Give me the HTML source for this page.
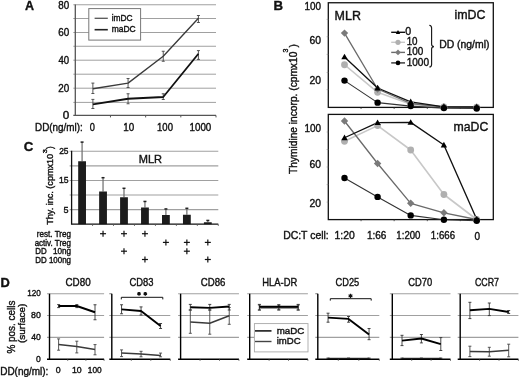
<!DOCTYPE html>
<html><head><meta charset="utf-8"><style>
html,body{margin:0;padding:0;background:#fff;}
svg{display:block;filter:grayscale(1);}
text{font-family:"Liberation Sans", sans-serif;stroke:#111;stroke-width:0.38px;}
</style></head><body>
<svg width="520" height="377" viewBox="0 0 520 377">
<rect width="520" height="377" fill="#fff"/>
<text x="24.89" y="10.3" font-size="13.2" font-weight="bold" fill="#111" textLength="9.04" lengthAdjust="spacingAndGlyphs" style="stroke-width:0.35px">A</text>
<line x1="73.3" y1="102.4" x2="216" y2="102.4" stroke="#a0a0a0" stroke-width="1" />
<line x1="73.3" y1="88.2" x2="216" y2="88.2" stroke="#a0a0a0" stroke-width="1" />
<line x1="73.3" y1="74.2" x2="216" y2="74.2" stroke="#a0a0a0" stroke-width="1" />
<line x1="73.3" y1="60.2" x2="216" y2="60.2" stroke="#a0a0a0" stroke-width="1" />
<line x1="73.3" y1="46.25" x2="216" y2="46.25" stroke="#a0a0a0" stroke-width="1" />
<line x1="73.3" y1="32.5" x2="216" y2="32.5" stroke="#a0a0a0" stroke-width="1" />
<line x1="73.3" y1="18.5" x2="216" y2="18.5" stroke="#a0a0a0" stroke-width="1" />
<line x1="73.3" y1="4.75" x2="216" y2="4.75" stroke="#a0a0a0" stroke-width="1" />
<text x="62.74" y="118.80000000000001" font-size="10.2" font-weight="normal" fill="#111" textLength="6.52" lengthAdjust="spacingAndGlyphs">0</text>
<text x="58.2" y="91.7" font-size="10.2" font-weight="normal" fill="#111" textLength="10.98" lengthAdjust="spacingAndGlyphs">20</text>
<text x="58.48" y="64.10000000000001" font-size="10.2" font-weight="normal" fill="#111" textLength="10.7" lengthAdjust="spacingAndGlyphs">40</text>
<text x="58.2" y="35.5" font-size="10.2" font-weight="normal" fill="#111" textLength="10.99" lengthAdjust="spacingAndGlyphs">60</text>
<text x="58.27" y="9.15" font-size="10.2" font-weight="normal" fill="#111" textLength="10.91" lengthAdjust="spacingAndGlyphs">80</text>
<line x1="75.3" y1="4.45" x2="75.3" y2="115.9" stroke="#555" stroke-width="1.3" />
<line x1="73.3" y1="115.4" x2="216" y2="115.4" stroke="#555" stroke-width="1.3" />
<line x1="110.475" y1="115.4" x2="110.475" y2="117.4" stroke="#555" stroke-width="1" />
<line x1="145.64999999999998" y1="115.4" x2="145.64999999999998" y2="117.4" stroke="#555" stroke-width="1" />
<line x1="180.825" y1="115.4" x2="180.825" y2="117.4" stroke="#555" stroke-width="1" />
<line x1="216.0" y1="115.4" x2="216.0" y2="117.4" stroke="#555" stroke-width="1" />
<text x="35.09" y="130.7" font-size="10.2" font-weight="normal" fill="#111" textLength="47.71" lengthAdjust="spacingAndGlyphs">DD(ng/ml):</text>
<text x="89.74" y="130.7" font-size="10.0" font-weight="normal" fill="#111" textLength="5.12" lengthAdjust="spacingAndGlyphs">0</text>
<text x="123.35" y="130.7" font-size="10.0" font-weight="normal" fill="#111" textLength="10.93" lengthAdjust="spacingAndGlyphs">10</text>
<text x="157.07" y="130.7" font-size="10.0" font-weight="normal" fill="#111" textLength="15.9" lengthAdjust="spacingAndGlyphs">100</text>
<text x="189.56" y="130.7" font-size="10.0" font-weight="normal" fill="#111" textLength="21.73" lengthAdjust="spacingAndGlyphs">1000</text>
<rect x="88.8" y="8.6" width="51.8" height="31.5" fill="#fff" stroke="#777" stroke-width="1"/>
<line x1="94.6" y1="18.3" x2="107.8" y2="18.3" stroke="#555" stroke-width="1.3" />
<line x1="94.6" y1="29.7" x2="107.8" y2="29.7" stroke="#222" stroke-width="1.6" />
<text x="111.7" y="20.7" font-size="8.8" text-anchor="start" font-weight="normal" fill="#111" textLength="21" lengthAdjust="spacingAndGlyphs" >imDC</text>
<text x="111.7" y="32.1" font-size="8.8" text-anchor="start" font-weight="normal" fill="#111" textLength="24" lengthAdjust="spacingAndGlyphs" >maDC</text>
<line x1="92.88749999999999" y1="83.1" x2="92.88749999999999" y2="93.5" stroke="#444" stroke-width="0.9" />
<line x1="91.38749999999999" y1="83.1" x2="94.38749999999999" y2="83.1" stroke="#444" stroke-width="0.9" />
<line x1="91.38749999999999" y1="93.5" x2="94.38749999999999" y2="93.5" stroke="#444" stroke-width="0.9" />
<line x1="92.88749999999999" y1="99.4" x2="92.88749999999999" y2="108.5" stroke="#444" stroke-width="0.9" />
<line x1="91.38749999999999" y1="99.4" x2="94.38749999999999" y2="99.4" stroke="#444" stroke-width="0.9" />
<line x1="91.38749999999999" y1="108.5" x2="94.38749999999999" y2="108.5" stroke="#444" stroke-width="0.9" />
<line x1="128.0625" y1="78.5" x2="128.0625" y2="87.5" stroke="#444" stroke-width="0.9" />
<line x1="126.5625" y1="78.5" x2="129.5625" y2="78.5" stroke="#444" stroke-width="0.9" />
<line x1="126.5625" y1="87.5" x2="129.5625" y2="87.5" stroke="#444" stroke-width="0.9" />
<line x1="128.0625" y1="93.75" x2="128.0625" y2="103.75" stroke="#444" stroke-width="0.9" />
<line x1="126.5625" y1="93.75" x2="129.5625" y2="93.75" stroke="#444" stroke-width="0.9" />
<line x1="126.5625" y1="103.75" x2="129.5625" y2="103.75" stroke="#444" stroke-width="0.9" />
<line x1="163.2375" y1="51.25" x2="163.2375" y2="61.25" stroke="#444" stroke-width="0.9" />
<line x1="161.7375" y1="51.25" x2="164.7375" y2="51.25" stroke="#444" stroke-width="0.9" />
<line x1="161.7375" y1="61.25" x2="164.7375" y2="61.25" stroke="#444" stroke-width="0.9" />
<line x1="163.2375" y1="93.75" x2="163.2375" y2="99.5" stroke="#444" stroke-width="0.9" />
<line x1="161.7375" y1="93.75" x2="164.7375" y2="93.75" stroke="#444" stroke-width="0.9" />
<line x1="161.7375" y1="99.5" x2="164.7375" y2="99.5" stroke="#444" stroke-width="0.9" />
<line x1="198.41249999999997" y1="15.5" x2="198.41249999999997" y2="22.5" stroke="#444" stroke-width="0.9" />
<line x1="196.91249999999997" y1="15.5" x2="199.91249999999997" y2="15.5" stroke="#444" stroke-width="0.9" />
<line x1="196.91249999999997" y1="22.5" x2="199.91249999999997" y2="22.5" stroke="#444" stroke-width="0.9" />
<line x1="198.41249999999997" y1="50.6" x2="198.41249999999997" y2="59.4" stroke="#444" stroke-width="0.9" />
<line x1="196.91249999999997" y1="50.6" x2="199.91249999999997" y2="50.6" stroke="#444" stroke-width="0.9" />
<line x1="196.91249999999997" y1="59.4" x2="199.91249999999997" y2="59.4" stroke="#444" stroke-width="0.9" />
<polyline points="92.88749999999999,88.75 128.0625,83.1 163.2375,56.25 198.41249999999997,18.25" fill="none" stroke="#3a3a3a" stroke-width="1.35" stroke-linejoin="round"/>
<polyline points="92.88749999999999,104.4 128.0625,98.75 163.2375,97.0 198.41249999999997,53.75" fill="none" stroke="#111" stroke-width="1.8" stroke-linejoin="round"/>
<text x="273.41" y="10.0" font-size="13.2" font-weight="bold" fill="#111" textLength="9.59" lengthAdjust="spacingAndGlyphs" style="stroke-width:0.35px">B</text>
<text transform="translate(296.6,174) rotate(-90)" font-size="10.2" fill="#111" textLength="122.3" lengthAdjust="spacingAndGlyphs">Thymidine incorp. (cpmx10</text>
<text transform="translate(287.5,52.6) rotate(-90)" font-size="7.0" fill="#111">3</text>
<text transform="translate(296.6,47.6) rotate(-90)" font-size="10.2" fill="#111">)</text>
<rect x="328.3" y="2.75" width="165.0" height="104.65" fill="none" stroke="#111" stroke-width="1.3"/>
<text x="304.44" y="9.6" font-size="10.6" font-weight="normal" fill="#111" textLength="16.54" lengthAdjust="spacingAndGlyphs">100</text>
<text x="309.47" y="43.9" font-size="10.6" font-weight="normal" fill="#111" textLength="11.53" lengthAdjust="spacingAndGlyphs">60</text>
<text x="309.48" y="83.8" font-size="10.6" font-weight="normal" fill="#111" textLength="11.53" lengthAdjust="spacingAndGlyphs">20</text>
<line x1="326.7" y1="19.4" x2="328.3" y2="19.4" stroke="#888" stroke-width="0.7" />
<line x1="326.7" y1="36.7" x2="328.3" y2="36.7" stroke="#888" stroke-width="0.7" />
<line x1="326.7" y1="54.4" x2="328.3" y2="54.4" stroke="#888" stroke-width="0.7" />
<line x1="326.7" y1="72.5" x2="328.3" y2="72.5" stroke="#888" stroke-width="0.7" />
<line x1="326.7" y1="89.6" x2="328.3" y2="89.6" stroke="#888" stroke-width="0.7" />
<line x1="361.05" y1="107.4" x2="361.05" y2="109.0" stroke="#333" stroke-width="0.8" />
<line x1="394.15" y1="107.4" x2="394.15" y2="109.0" stroke="#333" stroke-width="0.8" />
<line x1="427.29999999999995" y1="107.4" x2="427.29999999999995" y2="109.0" stroke="#333" stroke-width="0.8" />
<line x1="460.29999999999995" y1="107.4" x2="460.29999999999995" y2="109.0" stroke="#333" stroke-width="0.8" />
<text x="454.47" y="18.8" font-size="11.9" font-weight="normal" fill="#111" textLength="31.0" lengthAdjust="spacingAndGlyphs">imDC</text>
<rect x="328.3" y="114.4" width="165.0" height="105.19999999999999" fill="none" stroke="#111" stroke-width="1.3"/>
<text x="304.44" y="132.4" font-size="10.6" font-weight="normal" fill="#111" textLength="16.54" lengthAdjust="spacingAndGlyphs">100</text>
<text x="309.47" y="168.4" font-size="10.6" font-weight="normal" fill="#111" textLength="11.53" lengthAdjust="spacingAndGlyphs">60</text>
<text x="309.48" y="207.2" font-size="10.6" font-weight="normal" fill="#111" textLength="11.53" lengthAdjust="spacingAndGlyphs">20</text>
<line x1="326.7" y1="132" x2="328.3" y2="132" stroke="#888" stroke-width="0.7" />
<line x1="326.7" y1="149.5" x2="328.3" y2="149.5" stroke="#888" stroke-width="0.7" />
<line x1="326.7" y1="167" x2="328.3" y2="167" stroke="#888" stroke-width="0.7" />
<line x1="326.7" y1="184.6" x2="328.3" y2="184.6" stroke="#888" stroke-width="0.7" />
<line x1="326.7" y1="202.1" x2="328.3" y2="202.1" stroke="#888" stroke-width="0.7" />
<line x1="361.05" y1="219.6" x2="361.05" y2="221.2" stroke="#333" stroke-width="0.8" />
<line x1="394.15" y1="219.6" x2="394.15" y2="221.2" stroke="#333" stroke-width="0.8" />
<line x1="427.29999999999995" y1="219.6" x2="427.29999999999995" y2="221.2" stroke="#333" stroke-width="0.8" />
<line x1="460.29999999999995" y1="219.6" x2="460.29999999999995" y2="221.2" stroke="#333" stroke-width="0.8" />
<text x="453.48" y="130.6" font-size="11.9" font-weight="normal" fill="#111" textLength="34.78" lengthAdjust="spacingAndGlyphs">maDC</text>
<text x="334.58" y="19.8" font-size="12.0" font-weight="normal" fill="#111" textLength="26.3" lengthAdjust="spacingAndGlyphs">MLR</text>
<polyline points="344.5,64.75 377.6,92.3 410.7,104.2 443.9,107.0 476.7,107.2" fill="none" stroke="#c8c8c8" stroke-width="1.6" stroke-linejoin="round"/>
<polyline points="344.5,33.1 377.6,89.0 410.7,103.5 443.9,107.0 476.7,107.2" fill="none" stroke="#6a6a6a" stroke-width="1.3" stroke-linejoin="round"/>
<polyline points="344.5,80.6 377.6,102.65 410.7,106.1 443.9,108.1 476.7,108.5" fill="none" stroke="#333" stroke-width="1.1" stroke-linejoin="round"/>
<polyline points="344.5,56.9 377.6,88.0 410.7,101.8 443.9,106.8 476.7,107.0" fill="none" stroke="#111" stroke-width="1.35" stroke-linejoin="round"/>
<circle cx="344.5" cy="64.75" r="3.4" fill="#b0b0b0"/>
<polygon points="344.5,29.400000000000002 348.2,33.1 344.5,36.800000000000004 340.8,33.1" fill="#7a7a7a"/>
<circle cx="344.5" cy="80.6" r="3.2" fill="#000"/>
<polygon points="344.5,53.699999999999996 341.3,59.3 347.7,59.3" fill="#000"/>
<circle cx="377.6" cy="92.3" r="3.4" fill="#b0b0b0"/>
<polygon points="377.6,85.3 381.3,89.0 377.6,92.7 373.90000000000003,89.0" fill="#7a7a7a"/>
<circle cx="377.6" cy="102.65" r="3.2" fill="#000"/>
<polygon points="377.6,84.8 374.40000000000003,90.4 380.8,90.4" fill="#000"/>
<circle cx="410.7" cy="104.2" r="3.4" fill="#b0b0b0"/>
<polygon points="410.7,99.8 414.4,103.5 410.7,107.2 407.0,103.5" fill="#7a7a7a"/>
<circle cx="410.7" cy="106.1" r="3.2" fill="#000"/>
<polygon points="410.7,98.6 407.5,104.2 413.9,104.2" fill="#000"/>
<circle cx="443.9" cy="107.0" r="3.4" fill="#b0b0b0"/>
<polygon points="443.9,103.3 447.59999999999997,107.0 443.9,110.7 440.2,107.0" fill="#7a7a7a"/>
<circle cx="443.9" cy="108.1" r="3.2" fill="#000"/>
<polygon points="443.9,103.6 440.7,109.2 447.09999999999997,109.2" fill="#000"/>
<circle cx="476.7" cy="107.2" r="3.4" fill="#b0b0b0"/>
<polygon points="476.7,103.5 480.4,107.2 476.7,110.9 473.0,107.2" fill="#7a7a7a"/>
<circle cx="476.7" cy="108.5" r="3.2" fill="#000"/>
<polygon points="476.7,103.8 473.5,109.4 479.9,109.4" fill="#000"/>
<polyline points="344.5,141.3 377.6,125.6 410.7,150.0 443.9,194.5 476.7,219.5" fill="none" stroke="#c8c8c8" stroke-width="1.6" stroke-linejoin="round"/>
<polyline points="344.5,121.0 377.6,163.5 410.7,203.3 443.9,212.8 476.7,219.5" fill="none" stroke="#6a6a6a" stroke-width="1.3" stroke-linejoin="round"/>
<polyline points="344.5,178.0 377.6,196.9 410.7,215.4 443.9,219.7 476.7,220.8" fill="none" stroke="#333" stroke-width="1.1" stroke-linejoin="round"/>
<polyline points="344.5,137.75 377.6,122.6 410.7,122.4 443.9,145.0 476.7,219.3" fill="none" stroke="#111" stroke-width="1.35" stroke-linejoin="round"/>
<circle cx="344.5" cy="141.3" r="3.4" fill="#b0b0b0"/>
<polygon points="344.5,117.3 348.2,121.0 344.5,124.7 340.8,121.0" fill="#7a7a7a"/>
<circle cx="344.5" cy="178.0" r="3.2" fill="#000"/>
<polygon points="344.5,134.55 341.3,140.15 347.7,140.15" fill="#000"/>
<circle cx="377.6" cy="125.6" r="3.4" fill="#b0b0b0"/>
<polygon points="377.6,159.8 381.3,163.5 377.6,167.2 373.90000000000003,163.5" fill="#7a7a7a"/>
<circle cx="377.6" cy="196.9" r="3.2" fill="#000"/>
<polygon points="377.6,119.39999999999999 374.40000000000003,125.0 380.8,125.0" fill="#000"/>
<circle cx="410.7" cy="150.0" r="3.4" fill="#b0b0b0"/>
<polygon points="410.7,199.60000000000002 414.4,203.3 410.7,207.0 407.0,203.3" fill="#7a7a7a"/>
<circle cx="410.7" cy="215.4" r="3.2" fill="#000"/>
<polygon points="410.7,119.2 407.5,124.80000000000001 413.9,124.80000000000001" fill="#000"/>
<circle cx="443.9" cy="194.5" r="3.4" fill="#b0b0b0"/>
<polygon points="443.9,209.10000000000002 447.59999999999997,212.8 443.9,216.5 440.2,212.8" fill="#7a7a7a"/>
<circle cx="443.9" cy="219.7" r="3.2" fill="#000"/>
<polygon points="443.9,141.8 440.7,147.4 447.09999999999997,147.4" fill="#000"/>
<circle cx="476.7" cy="219.5" r="3.4" fill="#b0b0b0"/>
<polygon points="476.7,215.8 480.4,219.5 476.7,223.2 473.0,219.5" fill="#7a7a7a"/>
<circle cx="476.7" cy="220.8" r="3.2" fill="#000"/>
<polygon points="476.7,216.10000000000002 473.5,221.70000000000002 479.9,221.70000000000002" fill="#000"/>
<line x1="391.2" y1="32.3" x2="405" y2="32.3" stroke="#111" stroke-width="1.4" />
<polygon points="398,30.099999999999998 395.8,33.949999999999996 400.2,33.949999999999996" fill="#000"/>
<text x="405.38" y="35.3" font-size="10.6" font-weight="normal" fill="#111" textLength="5.93" lengthAdjust="spacingAndGlyphs">0</text>
<line x1="391.2" y1="42.3" x2="405" y2="42.3" stroke="#c8c8c8" stroke-width="1.4" />
<circle cx="398" cy="42.3" r="2.6" fill="#b0b0b0"/>
<text x="406.65" y="45.3" font-size="10.6" font-weight="normal" fill="#111" textLength="10.93" lengthAdjust="spacingAndGlyphs">10</text>
<line x1="391.2" y1="52.4" x2="405" y2="52.4" stroke="#6a6a6a" stroke-width="1.4" />
<polygon points="398,49.5 400.9,52.4 398,55.3 395.1,52.4" fill="#7a7a7a"/>
<text x="406.64" y="55.4" font-size="10.6" font-weight="normal" fill="#111" textLength="16.54" lengthAdjust="spacingAndGlyphs">100</text>
<line x1="391.2" y1="62.9" x2="405" y2="62.9" stroke="#333" stroke-width="1.4" />
<circle cx="398" cy="62.9" r="2.3" fill="#000"/>
<text x="406.63" y="65.9" font-size="10.6" font-weight="normal" fill="#111" textLength="22.36" lengthAdjust="spacingAndGlyphs">1000</text>
<path d="M429.3,25.3 Q431.6,25.6 431.6,28 L431.6,44.2 Q431.6,46.4 433.9,46.6 Q431.6,46.9 431.6,49.1 L431.6,64.4 Q431.6,66.8 429.3,67.0" fill="none" stroke="#1a1a1a" stroke-width="1.15"/>
<text x="439.15" y="47.7" font-size="10.0" font-weight="normal" fill="#111" textLength="50.3" lengthAdjust="spacingAndGlyphs">DD (ng/ml)</text>
<text x="283.15" y="238.6" font-size="10.6" font-weight="normal" fill="#111" textLength="45.6" lengthAdjust="spacingAndGlyphs">DC:T cell:</text>
<text x="334.51" y="238.6" font-size="10.6" font-weight="normal" fill="#111" textLength="20.2" lengthAdjust="spacingAndGlyphs">1:20</text>
<text x="366.94" y="238.6" font-size="10.6" font-weight="normal" fill="#111" textLength="19.5" lengthAdjust="spacingAndGlyphs">1:66</text>
<text x="396.37" y="238.6" font-size="10.6" font-weight="normal" fill="#111" textLength="24.11" lengthAdjust="spacingAndGlyphs">1:200</text>
<text x="430.86" y="238.6" font-size="10.6" font-weight="normal" fill="#111" textLength="24.16" lengthAdjust="spacingAndGlyphs">1:666</text>
<text x="474.61" y="239.6" font-size="10.6" font-weight="normal" fill="#111" textLength="5.58" lengthAdjust="spacingAndGlyphs">0</text>
<text x="23.65" y="150.9" font-size="13.2" font-weight="bold" fill="#111" textLength="9.61" lengthAdjust="spacingAndGlyphs" style="stroke-width:0.35px">C</text>
<line x1="69.6" y1="209.60999999999999" x2="218.3" y2="209.60999999999999" stroke="#a0a0a0" stroke-width="1.1" />
<line x1="69.6" y1="195.01999999999998" x2="218.3" y2="195.01999999999998" stroke="#a0a0a0" stroke-width="1.1" />
<line x1="69.6" y1="180.42999999999998" x2="218.3" y2="180.42999999999998" stroke="#a0a0a0" stroke-width="1.1" />
<line x1="69.6" y1="165.83999999999997" x2="218.3" y2="165.83999999999997" stroke="#a0a0a0" stroke-width="1.1" />
<line x1="69.6" y1="151.25" x2="218.3" y2="151.25" stroke="#a0a0a0" stroke-width="1.1" />
<text x="63.54" y="212.51" font-size="8.8" font-weight="normal" fill="#111" textLength="5.04" lengthAdjust="spacingAndGlyphs">5</text>
<text x="58.94" y="183.32999999999998" font-size="8.8" font-weight="normal" fill="#111" textLength="9.62" lengthAdjust="spacingAndGlyphs">15</text>
<text x="59.18" y="154.15" font-size="8.8" font-weight="normal" fill="#111" textLength="9.38" lengthAdjust="spacingAndGlyphs">25</text>
<text x="138.69" y="162.9" font-size="11.0" font-weight="normal" fill="#111" textLength="23.32" lengthAdjust="spacingAndGlyphs">MLR</text>
<line x1="82.07857142857142" y1="141.9" x2="82.07857142857142" y2="161.25" stroke="#6c6c6c" stroke-width="1.2" />
<line x1="80.57857142857142" y1="142.1" x2="83.57857142857142" y2="142.1" stroke="#222" stroke-width="1.5" />
<rect x="78.17857142857142" y="161.25" width="7.8" height="62.94999999999999" fill="#1c1c1c"/>
<line x1="103.03571428571428" y1="177.5" x2="103.03571428571428" y2="191.5" stroke="#6c6c6c" stroke-width="1.2" />
<line x1="101.53571428571428" y1="177.7" x2="104.53571428571428" y2="177.7" stroke="#222" stroke-width="1.5" />
<rect x="99.13571428571427" y="191.5" width="7.8" height="32.69999999999999" fill="#1c1c1c"/>
<line x1="123.99285714285713" y1="188.1" x2="123.99285714285713" y2="197.25" stroke="#6c6c6c" stroke-width="1.2" />
<line x1="122.49285714285713" y1="188.29999999999998" x2="125.49285714285713" y2="188.29999999999998" stroke="#222" stroke-width="1.5" />
<rect x="120.09285714285713" y="197.25" width="7.8" height="26.94999999999999" fill="#1c1c1c"/>
<line x1="144.95" y1="201.25" x2="144.95" y2="207.5" stroke="#6c6c6c" stroke-width="1.2" />
<line x1="143.45" y1="201.45" x2="146.45" y2="201.45" stroke="#222" stroke-width="1.5" />
<rect x="141.04999999999998" y="207.5" width="7.8" height="16.69999999999999" fill="#1c1c1c"/>
<line x1="165.90714285714284" y1="208.75" x2="165.90714285714284" y2="215.0" stroke="#6c6c6c" stroke-width="1.2" />
<line x1="164.40714285714284" y1="208.95" x2="167.40714285714284" y2="208.95" stroke="#222" stroke-width="1.5" />
<rect x="162.00714285714284" y="215.0" width="7.8" height="9.199999999999989" fill="#1c1c1c"/>
<line x1="186.8642857142857" y1="208.1" x2="186.8642857142857" y2="214.75" stroke="#6c6c6c" stroke-width="1.2" />
<line x1="185.3642857142857" y1="208.29999999999998" x2="188.3642857142857" y2="208.29999999999998" stroke="#222" stroke-width="1.5" />
<rect x="182.9642857142857" y="214.75" width="7.8" height="9.449999999999989" fill="#1c1c1c"/>
<line x1="207.82142857142858" y1="220.25" x2="207.82142857142858" y2="222.25" stroke="#6c6c6c" stroke-width="1.2" />
<line x1="206.32142857142858" y1="220.45" x2="209.32142857142858" y2="220.45" stroke="#222" stroke-width="1.5" />
<rect x="203.92142857142858" y="222.25" width="7.8" height="1.9499999999999886" fill="#1c1c1c"/>
<line x1="71.6" y1="150.75" x2="71.6" y2="224.7" stroke="#111" stroke-width="1.3" />
<line x1="71.6" y1="224.2" x2="218.3" y2="224.2" stroke="#111" stroke-width="1.3" />
<line x1="92.55714285714285" y1="224.2" x2="92.55714285714285" y2="226.0" stroke="#555" stroke-width="0.8" />
<line x1="113.5142857142857" y1="224.2" x2="113.5142857142857" y2="226.0" stroke="#555" stroke-width="0.8" />
<line x1="134.4714285714286" y1="224.2" x2="134.4714285714286" y2="226.0" stroke="#555" stroke-width="0.8" />
<line x1="155.42857142857144" y1="224.2" x2="155.42857142857144" y2="226.0" stroke="#555" stroke-width="0.8" />
<line x1="176.3857142857143" y1="224.2" x2="176.3857142857143" y2="226.0" stroke="#555" stroke-width="0.8" />
<line x1="197.34285714285716" y1="224.2" x2="197.34285714285716" y2="226.0" stroke="#555" stroke-width="0.8" />
<line x1="218.3" y1="224.2" x2="218.3" y2="226.0" stroke="#555" stroke-width="0.8" />
<text transform="translate(52.8,224.8) rotate(-90)" x="0" y="0" font-size="8.9" fill="#111" textLength="70.95" lengthAdjust="spacingAndGlyphs">Thy. inc. (cpmx10</text>
<text transform="translate(46.5,153.32) rotate(-90)" x="0" y="0" font-size="6.2" fill="#111" textLength="4.11" lengthAdjust="spacingAndGlyphs">3</text>
<text transform="translate(52.8,148.95) rotate(-90)" x="0" y="0" font-size="8.9" fill="#111" textLength="2.64" lengthAdjust="spacingAndGlyphs">)</text>
<text x="36.87" y="236.8" font-size="8.6" font-weight="normal" fill="#111" textLength="34.14" lengthAdjust="spacingAndGlyphs">rest. Treg</text>
<line x1="100.03571428571428" y1="233.70000000000002" x2="106.03571428571428" y2="233.70000000000002" stroke="#111" stroke-width="1.2" />
<line x1="103.03571428571428" y1="230.70000000000002" x2="103.03571428571428" y2="236.70000000000002" stroke="#111" stroke-width="1.2" />
<line x1="120.99285714285713" y1="233.70000000000002" x2="126.99285714285713" y2="233.70000000000002" stroke="#111" stroke-width="1.2" />
<line x1="123.99285714285713" y1="230.70000000000002" x2="123.99285714285713" y2="236.70000000000002" stroke="#111" stroke-width="1.2" />
<line x1="141.95" y1="233.70000000000002" x2="147.95" y2="233.70000000000002" stroke="#111" stroke-width="1.2" />
<line x1="144.95" y1="230.70000000000002" x2="144.95" y2="236.70000000000002" stroke="#111" stroke-width="1.2" />
<text x="34.67" y="245.5" font-size="8.6" font-weight="normal" fill="#111" textLength="36.33" lengthAdjust="spacingAndGlyphs">activ. Treg</text>
<line x1="162.90714285714284" y1="242.4" x2="168.90714285714284" y2="242.4" stroke="#111" stroke-width="1.2" />
<line x1="165.90714285714284" y1="239.4" x2="165.90714285714284" y2="245.4" stroke="#111" stroke-width="1.2" />
<line x1="183.8642857142857" y1="242.4" x2="189.8642857142857" y2="242.4" stroke="#111" stroke-width="1.2" />
<line x1="186.8642857142857" y1="239.4" x2="186.8642857142857" y2="245.4" stroke="#111" stroke-width="1.2" />
<line x1="204.82142857142858" y1="242.4" x2="210.82142857142858" y2="242.4" stroke="#111" stroke-width="1.2" />
<line x1="207.82142857142858" y1="239.4" x2="207.82142857142858" y2="245.4" stroke="#111" stroke-width="1.2" />
<text x="35.25" y="254.3" font-size="8.6" font-weight="normal" fill="#111" textLength="11.43" lengthAdjust="spacingAndGlyphs">DD</text>
<text x="52.88" y="254.3" font-size="8.6" font-weight="normal" fill="#111" textLength="18.15" lengthAdjust="spacingAndGlyphs">10ng</text>
<line x1="120.99285714285713" y1="251.20000000000002" x2="126.99285714285713" y2="251.20000000000002" stroke="#111" stroke-width="1.2" />
<line x1="123.99285714285713" y1="248.20000000000002" x2="123.99285714285713" y2="254.20000000000002" stroke="#111" stroke-width="1.2" />
<line x1="183.8642857142857" y1="251.20000000000002" x2="189.8642857142857" y2="251.20000000000002" stroke="#111" stroke-width="1.2" />
<line x1="186.8642857142857" y1="248.20000000000002" x2="186.8642857142857" y2="254.20000000000002" stroke="#111" stroke-width="1.2" />
<text x="35.25" y="262.6" font-size="8.6" font-weight="normal" fill="#111" textLength="35.76" lengthAdjust="spacingAndGlyphs">DD 100ng</text>
<line x1="141.95" y1="259.5" x2="147.95" y2="259.5" stroke="#111" stroke-width="1.2" />
<line x1="144.95" y1="256.5" x2="144.95" y2="262.5" stroke="#111" stroke-width="1.2" />
<line x1="204.82142857142858" y1="259.5" x2="210.82142857142858" y2="259.5" stroke="#111" stroke-width="1.2" />
<line x1="207.82142857142858" y1="256.5" x2="207.82142857142858" y2="262.5" stroke="#111" stroke-width="1.2" />
<text x="0.54" y="286.7" font-size="13.2" font-weight="bold" fill="#111" textLength="9.3" lengthAdjust="spacingAndGlyphs" style="stroke-width:0.35px">D</text>
<line x1="47.0" y1="337.384" x2="104.1" y2="337.384" stroke="#a0a0a0" stroke-width="1.1" />
<line x1="47.0" y1="315.568" x2="104.1" y2="315.568" stroke="#a0a0a0" stroke-width="1.1" />
<line x1="47.0" y1="293.752" x2="104.1" y2="293.752" stroke="#a0a0a0" stroke-width="1.1" />
<text x="65.5" y="286.2" font-size="10.6" font-weight="normal" fill="#111" textLength="25.19" lengthAdjust="spacingAndGlyphs">CD80</text>
<line x1="58.6" y1="338.9" x2="58.6" y2="350.2" stroke="#444" stroke-width="0.9" />
<line x1="57.1" y1="338.9" x2="60.1" y2="338.9" stroke="#444" stroke-width="0.9" />
<line x1="57.1" y1="350.2" x2="60.1" y2="350.2" stroke="#444" stroke-width="0.9" />
<line x1="58.6" y1="304.6" x2="58.6" y2="307.6" stroke="#333" stroke-width="0.9" />
<line x1="57.1" y1="304.6" x2="60.1" y2="304.6" stroke="#333" stroke-width="0.9" />
<line x1="57.1" y1="307.6" x2="60.1" y2="307.6" stroke="#333" stroke-width="0.9" />
<line x1="76.8" y1="341.2" x2="76.8" y2="352.9" stroke="#444" stroke-width="0.9" />
<line x1="75.3" y1="341.2" x2="78.3" y2="341.2" stroke="#444" stroke-width="0.9" />
<line x1="75.3" y1="352.9" x2="78.3" y2="352.9" stroke="#444" stroke-width="0.9" />
<line x1="76.8" y1="304.6" x2="76.8" y2="307.6" stroke="#333" stroke-width="0.9" />
<line x1="75.3" y1="304.6" x2="78.3" y2="304.6" stroke="#333" stroke-width="0.9" />
<line x1="75.3" y1="307.6" x2="78.3" y2="307.6" stroke="#333" stroke-width="0.9" />
<line x1="95.0" y1="344.6" x2="95.0" y2="354.8" stroke="#444" stroke-width="0.9" />
<line x1="93.5" y1="344.6" x2="96.5" y2="344.6" stroke="#444" stroke-width="0.9" />
<line x1="93.5" y1="354.8" x2="96.5" y2="354.8" stroke="#444" stroke-width="0.9" />
<line x1="95.0" y1="304.75" x2="95.0" y2="319.75" stroke="#333" stroke-width="0.9" />
<line x1="93.5" y1="304.75" x2="96.5" y2="304.75" stroke="#333" stroke-width="0.9" />
<line x1="93.5" y1="319.75" x2="96.5" y2="319.75" stroke="#333" stroke-width="0.9" />
<polyline points="58.6,344.6 76.8,346.6 95.0,349.5" fill="none" stroke="#3a3a3a" stroke-width="1.5" stroke-linejoin="round"/>
<polyline points="58.6,306 76.8,306 95.0,312.25" fill="none" stroke="#000" stroke-width="1.9" stroke-linejoin="round"/>
<line x1="49.5" y1="293.752" x2="49.5" y2="359.8" stroke="#000" stroke-width="1.4" />
<line x1="47.0" y1="359.2" x2="104.1" y2="359.2" stroke="#000" stroke-width="1.4" />
<line x1="67.7" y1="359.2" x2="67.7" y2="361.0" stroke="#555" stroke-width="0.7" />
<line x1="85.9" y1="359.2" x2="85.9" y2="361.0" stroke="#555" stroke-width="0.7" />
<line x1="104.1" y1="359.2" x2="104.1" y2="361.0" stroke="#555" stroke-width="0.7" />
<line x1="109.3" y1="337.384" x2="170.3" y2="337.384" stroke="#a0a0a0" stroke-width="1.1" />
<line x1="109.3" y1="315.568" x2="170.3" y2="315.568" stroke="#a0a0a0" stroke-width="1.1" />
<line x1="109.3" y1="293.752" x2="111.8" y2="293.752" stroke="#555" stroke-width="0.8" />
<text x="129.52" y="286.2" font-size="10.6" font-weight="normal" fill="#111" textLength="23.99" lengthAdjust="spacingAndGlyphs">CD83</text>
<line x1="121.55" y1="349.9" x2="121.55" y2="356.6" stroke="#444" stroke-width="0.9" />
<line x1="120.05" y1="349.9" x2="123.05" y2="349.9" stroke="#444" stroke-width="0.9" />
<line x1="120.05" y1="356.6" x2="123.05" y2="356.6" stroke="#444" stroke-width="0.9" />
<line x1="121.55" y1="304.75" x2="121.55" y2="313.75" stroke="#333" stroke-width="0.9" />
<line x1="120.05" y1="304.75" x2="123.05" y2="304.75" stroke="#333" stroke-width="0.9" />
<line x1="120.05" y1="313.75" x2="123.05" y2="313.75" stroke="#333" stroke-width="0.9" />
<line x1="141.05" y1="351.3" x2="141.05" y2="356.8" stroke="#444" stroke-width="0.9" />
<line x1="139.55" y1="351.3" x2="142.55" y2="351.3" stroke="#444" stroke-width="0.9" />
<line x1="139.55" y1="356.8" x2="142.55" y2="356.8" stroke="#444" stroke-width="0.9" />
<line x1="141.05" y1="306.9" x2="141.05" y2="315" stroke="#333" stroke-width="0.9" />
<line x1="139.55" y1="306.9" x2="142.55" y2="306.9" stroke="#333" stroke-width="0.9" />
<line x1="139.55" y1="315" x2="142.55" y2="315" stroke="#333" stroke-width="0.9" />
<line x1="160.55" y1="353.1" x2="160.55" y2="356.8" stroke="#444" stroke-width="0.9" />
<line x1="159.05" y1="353.1" x2="162.05" y2="353.1" stroke="#444" stroke-width="0.9" />
<line x1="159.05" y1="356.8" x2="162.05" y2="356.8" stroke="#444" stroke-width="0.9" />
<line x1="160.55" y1="323.5" x2="160.55" y2="328.5" stroke="#333" stroke-width="0.9" />
<line x1="159.05" y1="323.5" x2="162.05" y2="323.5" stroke="#333" stroke-width="0.9" />
<line x1="159.05" y1="328.5" x2="162.05" y2="328.5" stroke="#333" stroke-width="0.9" />
<polyline points="121.55,353.1 141.05,353.9 160.55,355.5" fill="none" stroke="#3a3a3a" stroke-width="1.5" stroke-linejoin="round"/>
<polyline points="121.55,309.4 141.05,311 160.55,326" fill="none" stroke="#000" stroke-width="1.9" stroke-linejoin="round"/>
<line x1="111.8" y1="293.752" x2="111.8" y2="359.8" stroke="#000" stroke-width="1.4" />
<line x1="109.3" y1="359.2" x2="170.3" y2="359.2" stroke="#000" stroke-width="1.4" />
<line x1="131.3" y1="359.2" x2="131.3" y2="361.0" stroke="#555" stroke-width="0.7" />
<line x1="150.8" y1="359.2" x2="150.8" y2="361.0" stroke="#555" stroke-width="0.7" />
<line x1="170.3" y1="359.2" x2="170.3" y2="361.0" stroke="#555" stroke-width="0.7" />
<line x1="178.1" y1="337.384" x2="238.95" y2="337.384" stroke="#a0a0a0" stroke-width="1.1" />
<line x1="178.1" y1="315.568" x2="238.95" y2="315.568" stroke="#a0a0a0" stroke-width="1.1" />
<line x1="178.1" y1="293.752" x2="238.95" y2="293.752" stroke="#a0a0a0" stroke-width="1.1" />
<text x="200.81" y="286.2" font-size="10.6" font-weight="normal" fill="#111" textLength="24.61" lengthAdjust="spacingAndGlyphs">CD86</text>
<line x1="190.325" y1="310" x2="190.325" y2="333.3" stroke="#444" stroke-width="0.9" />
<line x1="188.825" y1="310" x2="191.825" y2="310" stroke="#444" stroke-width="0.9" />
<line x1="188.825" y1="333.3" x2="191.825" y2="333.3" stroke="#444" stroke-width="0.9" />
<line x1="190.325" y1="304.4" x2="190.325" y2="310" stroke="#333" stroke-width="0.9" />
<line x1="188.825" y1="304.4" x2="191.825" y2="304.4" stroke="#333" stroke-width="0.9" />
<line x1="188.825" y1="310" x2="191.825" y2="310" stroke="#333" stroke-width="0.9" />
<line x1="209.77499999999998" y1="310" x2="209.77499999999998" y2="334.2" stroke="#444" stroke-width="0.9" />
<line x1="208.27499999999998" y1="310" x2="211.27499999999998" y2="310" stroke="#444" stroke-width="0.9" />
<line x1="208.27499999999998" y1="334.2" x2="211.27499999999998" y2="334.2" stroke="#444" stroke-width="0.9" />
<line x1="209.77499999999998" y1="304.4" x2="209.77499999999998" y2="310" stroke="#333" stroke-width="0.9" />
<line x1="208.27499999999998" y1="304.4" x2="211.27499999999998" y2="304.4" stroke="#333" stroke-width="0.9" />
<line x1="208.27499999999998" y1="310" x2="211.27499999999998" y2="310" stroke="#333" stroke-width="0.9" />
<line x1="229.225" y1="307.5" x2="229.225" y2="324.3" stroke="#444" stroke-width="0.9" />
<line x1="227.725" y1="307.5" x2="230.725" y2="307.5" stroke="#444" stroke-width="0.9" />
<line x1="227.725" y1="324.3" x2="230.725" y2="324.3" stroke="#444" stroke-width="0.9" />
<line x1="229.225" y1="304.4" x2="229.225" y2="310" stroke="#333" stroke-width="0.9" />
<line x1="227.725" y1="304.4" x2="230.725" y2="304.4" stroke="#333" stroke-width="0.9" />
<line x1="227.725" y1="310" x2="230.725" y2="310" stroke="#333" stroke-width="0.9" />
<polyline points="190.325,322.0 209.77499999999998,323.2 229.225,315.8" fill="none" stroke="#3a3a3a" stroke-width="1.5" stroke-linejoin="round"/>
<polyline points="190.325,307.25 209.77499999999998,307.9 229.225,306.5" fill="none" stroke="#000" stroke-width="1.9" stroke-linejoin="round"/>
<line x1="180.6" y1="293.752" x2="180.6" y2="359.8" stroke="#000" stroke-width="1.4" />
<line x1="178.1" y1="359.2" x2="238.95" y2="359.2" stroke="#000" stroke-width="1.4" />
<line x1="200.04999999999998" y1="359.2" x2="200.04999999999998" y2="361.0" stroke="#555" stroke-width="0.7" />
<line x1="219.5" y1="359.2" x2="219.5" y2="361.0" stroke="#555" stroke-width="0.7" />
<line x1="238.95" y1="359.2" x2="238.95" y2="361.0" stroke="#555" stroke-width="0.7" />
<line x1="247.2" y1="337.384" x2="307.9" y2="337.384" stroke="#a0a0a0" stroke-width="1.1" />
<line x1="247.2" y1="315.568" x2="307.9" y2="315.568" stroke="#a0a0a0" stroke-width="1.1" />
<line x1="247.2" y1="293.752" x2="307.9" y2="293.752" stroke="#a0a0a0" stroke-width="1.1" />
<text x="262.33" y="286.2" font-size="10.6" font-weight="normal" fill="#111" textLength="35.01" lengthAdjust="spacingAndGlyphs">HLA-DR</text>
<rect x="254.4" y="323.6" width="53.6" height="28.3" fill="#fff" stroke="#a8a8a8" stroke-width="0.9"/>
<line x1="255" y1="330.9" x2="271.5" y2="330.9" stroke="#1a1a1a" stroke-width="1.6" />
<line x1="255" y1="341.5" x2="271.5" y2="341.5" stroke="#444" stroke-width="1.4" />
<text x="276.65" y="333.6" font-size="9.6" font-weight="normal" fill="#111" textLength="27.62" lengthAdjust="spacingAndGlyphs">maDC</text>
<text x="276.66" y="344.2" font-size="9.6" font-weight="normal" fill="#111" textLength="24.01" lengthAdjust="spacingAndGlyphs">imDC</text>
<line x1="259.4" y1="305" x2="259.4" y2="310" stroke="#444" stroke-width="0.9" />
<line x1="257.9" y1="305" x2="260.9" y2="305" stroke="#444" stroke-width="0.9" />
<line x1="257.9" y1="310" x2="260.9" y2="310" stroke="#444" stroke-width="0.9" />
<line x1="259.4" y1="304.4" x2="259.4" y2="310" stroke="#333" stroke-width="0.9" />
<line x1="257.9" y1="304.4" x2="260.9" y2="304.4" stroke="#333" stroke-width="0.9" />
<line x1="257.9" y1="310" x2="260.9" y2="310" stroke="#333" stroke-width="0.9" />
<line x1="278.8" y1="305" x2="278.8" y2="310" stroke="#444" stroke-width="0.9" />
<line x1="277.3" y1="305" x2="280.3" y2="305" stroke="#444" stroke-width="0.9" />
<line x1="277.3" y1="310" x2="280.3" y2="310" stroke="#444" stroke-width="0.9" />
<line x1="278.8" y1="304.8" x2="278.8" y2="309.8" stroke="#333" stroke-width="0.9" />
<line x1="277.3" y1="304.8" x2="280.3" y2="304.8" stroke="#333" stroke-width="0.9" />
<line x1="277.3" y1="309.8" x2="280.3" y2="309.8" stroke="#333" stroke-width="0.9" />
<line x1="298.2" y1="305" x2="298.2" y2="310" stroke="#444" stroke-width="0.9" />
<line x1="296.7" y1="305" x2="299.7" y2="305" stroke="#444" stroke-width="0.9" />
<line x1="296.7" y1="310" x2="299.7" y2="310" stroke="#444" stroke-width="0.9" />
<line x1="298.2" y1="304.4" x2="298.2" y2="310" stroke="#333" stroke-width="0.9" />
<line x1="296.7" y1="304.4" x2="299.7" y2="304.4" stroke="#333" stroke-width="0.9" />
<line x1="296.7" y1="310" x2="299.7" y2="310" stroke="#333" stroke-width="0.9" />
<polyline points="259.4,307.8 278.8,307.8 298.2,307.8" fill="none" stroke="#3a3a3a" stroke-width="1.5" stroke-linejoin="round"/>
<polyline points="259.4,306.6 278.8,306.6 298.2,306.6" fill="none" stroke="#000" stroke-width="1.9" stroke-linejoin="round"/>
<line x1="249.7" y1="293.752" x2="249.7" y2="359.8" stroke="#000" stroke-width="1.4" />
<line x1="247.2" y1="359.2" x2="307.9" y2="359.2" stroke="#000" stroke-width="1.4" />
<line x1="269.09999999999997" y1="359.2" x2="269.09999999999997" y2="361.0" stroke="#555" stroke-width="0.7" />
<line x1="288.5" y1="359.2" x2="288.5" y2="361.0" stroke="#555" stroke-width="0.7" />
<line x1="307.9" y1="359.2" x2="307.9" y2="361.0" stroke="#555" stroke-width="0.7" />
<line x1="315.3" y1="337.384" x2="379.3" y2="337.384" stroke="#a0a0a0" stroke-width="1.1" />
<line x1="315.3" y1="315.568" x2="379.3" y2="315.568" stroke="#a0a0a0" stroke-width="1.1" />
<line x1="315.3" y1="293.752" x2="317.8" y2="293.752" stroke="#555" stroke-width="0.8" />
<text x="335.53" y="286.2" font-size="10.6" font-weight="normal" fill="#111" textLength="23.66" lengthAdjust="spacingAndGlyphs">CD25</text>
<line x1="328.05" y1="358" x2="328.05" y2="359" stroke="#444" stroke-width="0.9" />
<line x1="326.55" y1="358" x2="329.55" y2="358" stroke="#444" stroke-width="0.9" />
<line x1="326.55" y1="359" x2="329.55" y2="359" stroke="#444" stroke-width="0.9" />
<line x1="328.05" y1="313.2" x2="328.05" y2="322.2" stroke="#333" stroke-width="0.9" />
<line x1="326.55" y1="313.2" x2="329.55" y2="313.2" stroke="#333" stroke-width="0.9" />
<line x1="326.55" y1="322.2" x2="329.55" y2="322.2" stroke="#333" stroke-width="0.9" />
<line x1="348.55" y1="358" x2="348.55" y2="359" stroke="#444" stroke-width="0.9" />
<line x1="347.05" y1="358" x2="350.05" y2="358" stroke="#444" stroke-width="0.9" />
<line x1="347.05" y1="359" x2="350.05" y2="359" stroke="#444" stroke-width="0.9" />
<line x1="348.55" y1="316.5" x2="348.55" y2="322.2" stroke="#333" stroke-width="0.9" />
<line x1="347.05" y1="316.5" x2="350.05" y2="316.5" stroke="#333" stroke-width="0.9" />
<line x1="347.05" y1="322.2" x2="350.05" y2="322.2" stroke="#333" stroke-width="0.9" />
<line x1="369.05" y1="358" x2="369.05" y2="359" stroke="#444" stroke-width="0.9" />
<line x1="367.55" y1="358" x2="370.55" y2="358" stroke="#444" stroke-width="0.9" />
<line x1="367.55" y1="359" x2="370.55" y2="359" stroke="#444" stroke-width="0.9" />
<line x1="369.05" y1="328.5" x2="369.05" y2="339.7" stroke="#333" stroke-width="0.9" />
<line x1="367.55" y1="328.5" x2="370.55" y2="328.5" stroke="#333" stroke-width="0.9" />
<line x1="367.55" y1="339.7" x2="370.55" y2="339.7" stroke="#333" stroke-width="0.9" />
<polyline points="328.05,358.6 348.55,358.6 369.05,358.6" fill="none" stroke="#3a3a3a" stroke-width="1.5" stroke-linejoin="round"/>
<polyline points="328.05,317.6 348.55,318.9 369.05,334.4" fill="none" stroke="#000" stroke-width="1.9" stroke-linejoin="round"/>
<line x1="317.8" y1="293.752" x2="317.8" y2="359.8" stroke="#000" stroke-width="1.4" />
<line x1="315.3" y1="359.2" x2="379.3" y2="359.2" stroke="#000" stroke-width="1.4" />
<line x1="338.3" y1="359.2" x2="338.3" y2="361.0" stroke="#555" stroke-width="0.7" />
<line x1="358.8" y1="359.2" x2="358.8" y2="361.0" stroke="#555" stroke-width="0.7" />
<line x1="379.3" y1="359.2" x2="379.3" y2="361.0" stroke="#555" stroke-width="0.7" />
<line x1="389.8" y1="337.384" x2="450.5" y2="337.384" stroke="#a0a0a0" stroke-width="1.1" />
<line x1="389.8" y1="315.568" x2="450.5" y2="315.568" stroke="#a0a0a0" stroke-width="1.1" />
<line x1="389.8" y1="293.752" x2="450.5" y2="293.752" stroke="#a0a0a0" stroke-width="1.1" />
<text x="408.33" y="286.2" font-size="10.6" font-weight="normal" fill="#111" textLength="23.84" lengthAdjust="spacingAndGlyphs">CD70</text>
<line x1="402.0" y1="358" x2="402.0" y2="359" stroke="#444" stroke-width="0.9" />
<line x1="400.5" y1="358" x2="403.5" y2="358" stroke="#444" stroke-width="0.9" />
<line x1="400.5" y1="359" x2="403.5" y2="359" stroke="#444" stroke-width="0.9" />
<line x1="402.0" y1="335.3" x2="402.0" y2="345.6" stroke="#333" stroke-width="0.9" />
<line x1="400.5" y1="335.3" x2="403.5" y2="335.3" stroke="#333" stroke-width="0.9" />
<line x1="400.5" y1="345.6" x2="403.5" y2="345.6" stroke="#333" stroke-width="0.9" />
<line x1="421.40000000000003" y1="358" x2="421.40000000000003" y2="359" stroke="#444" stroke-width="0.9" />
<line x1="419.90000000000003" y1="358" x2="422.90000000000003" y2="358" stroke="#444" stroke-width="0.9" />
<line x1="419.90000000000003" y1="359" x2="422.90000000000003" y2="359" stroke="#444" stroke-width="0.9" />
<line x1="421.40000000000003" y1="334.5" x2="421.40000000000003" y2="342.9" stroke="#333" stroke-width="0.9" />
<line x1="419.90000000000003" y1="334.5" x2="422.90000000000003" y2="334.5" stroke="#333" stroke-width="0.9" />
<line x1="419.90000000000003" y1="342.9" x2="422.90000000000003" y2="342.9" stroke="#333" stroke-width="0.9" />
<line x1="440.8" y1="358" x2="440.8" y2="359" stroke="#444" stroke-width="0.9" />
<line x1="439.3" y1="358" x2="442.3" y2="358" stroke="#444" stroke-width="0.9" />
<line x1="439.3" y1="359" x2="442.3" y2="359" stroke="#444" stroke-width="0.9" />
<line x1="440.8" y1="337.6" x2="440.8" y2="350.5" stroke="#333" stroke-width="0.9" />
<line x1="439.3" y1="337.6" x2="442.3" y2="337.6" stroke="#333" stroke-width="0.9" />
<line x1="439.3" y1="350.5" x2="442.3" y2="350.5" stroke="#333" stroke-width="0.9" />
<polyline points="402.0,358.6 421.40000000000003,358.6 440.8,358.6" fill="none" stroke="#3a3a3a" stroke-width="1.5" stroke-linejoin="round"/>
<polyline points="402.0,340.6 421.40000000000003,338.5 440.8,344.2" fill="none" stroke="#000" stroke-width="1.9" stroke-linejoin="round"/>
<line x1="392.3" y1="293.752" x2="392.3" y2="359.8" stroke="#000" stroke-width="1.4" />
<line x1="389.8" y1="359.2" x2="450.5" y2="359.2" stroke="#000" stroke-width="1.4" />
<line x1="411.7" y1="359.2" x2="411.7" y2="361.0" stroke="#555" stroke-width="0.7" />
<line x1="431.1" y1="359.2" x2="431.1" y2="361.0" stroke="#555" stroke-width="0.7" />
<line x1="450.5" y1="359.2" x2="450.5" y2="361.0" stroke="#555" stroke-width="0.7" />
<line x1="457.7" y1="337.384" x2="518.4" y2="337.384" stroke="#a0a0a0" stroke-width="1.1" />
<line x1="457.7" y1="315.568" x2="518.4" y2="315.568" stroke="#a0a0a0" stroke-width="1.1" />
<line x1="457.7" y1="293.752" x2="518.4" y2="293.752" stroke="#a0a0a0" stroke-width="1.1" />
<text x="474.95" y="286.2" font-size="10.6" font-weight="normal" fill="#111" textLength="23.99" lengthAdjust="spacingAndGlyphs">CCR7</text>
<line x1="469.9" y1="346.2" x2="469.9" y2="356.6" stroke="#444" stroke-width="0.9" />
<line x1="468.4" y1="346.2" x2="471.4" y2="346.2" stroke="#444" stroke-width="0.9" />
<line x1="468.4" y1="356.6" x2="471.4" y2="356.6" stroke="#444" stroke-width="0.9" />
<line x1="469.9" y1="302.3" x2="469.9" y2="318.6" stroke="#333" stroke-width="0.9" />
<line x1="468.4" y1="302.3" x2="471.4" y2="302.3" stroke="#333" stroke-width="0.9" />
<line x1="468.4" y1="318.6" x2="471.4" y2="318.6" stroke="#333" stroke-width="0.9" />
<line x1="489.3" y1="347.3" x2="489.3" y2="356.2" stroke="#444" stroke-width="0.9" />
<line x1="487.8" y1="347.3" x2="490.8" y2="347.3" stroke="#444" stroke-width="0.9" />
<line x1="487.8" y1="356.2" x2="490.8" y2="356.2" stroke="#444" stroke-width="0.9" />
<line x1="489.3" y1="303" x2="489.3" y2="315.6" stroke="#333" stroke-width="0.9" />
<line x1="487.8" y1="303" x2="490.8" y2="303" stroke="#333" stroke-width="0.9" />
<line x1="487.8" y1="315.6" x2="490.8" y2="315.6" stroke="#333" stroke-width="0.9" />
<line x1="508.7" y1="344.2" x2="508.7" y2="356.8" stroke="#444" stroke-width="0.9" />
<line x1="507.2" y1="344.2" x2="510.2" y2="344.2" stroke="#444" stroke-width="0.9" />
<line x1="507.2" y1="356.8" x2="510.2" y2="356.8" stroke="#444" stroke-width="0.9" />
<line x1="508.7" y1="310.5" x2="508.7" y2="313.5" stroke="#333" stroke-width="0.9" />
<line x1="507.2" y1="310.5" x2="510.2" y2="310.5" stroke="#333" stroke-width="0.9" />
<line x1="507.2" y1="313.5" x2="510.2" y2="313.5" stroke="#333" stroke-width="0.9" />
<polyline points="469.9,351.5 489.3,351.8 508.7,350.2" fill="none" stroke="#3a3a3a" stroke-width="1.5" stroke-linejoin="round"/>
<polyline points="469.9,310.3 489.3,308.9 508.7,312" fill="none" stroke="#000" stroke-width="1.9" stroke-linejoin="round"/>
<line x1="460.2" y1="293.752" x2="460.2" y2="359.8" stroke="#000" stroke-width="1.4" />
<line x1="457.7" y1="359.2" x2="518.4" y2="359.2" stroke="#000" stroke-width="1.4" />
<line x1="479.59999999999997" y1="359.2" x2="479.59999999999997" y2="361.0" stroke="#555" stroke-width="0.7" />
<line x1="499.0" y1="359.2" x2="499.0" y2="361.0" stroke="#555" stroke-width="0.7" />
<line x1="518.4" y1="359.2" x2="518.4" y2="361.0" stroke="#555" stroke-width="0.7" />
<path d="M121.3,299.4 L121.3,297.3 L162.8,297.3 L162.8,299.4" fill="none" stroke="#111" stroke-width="1"/>
<path d="M139.00,291.90L139.00,295.70M140.65,292.85L137.35,294.75M140.65,294.75L137.35,292.85" stroke="#111" stroke-width="1.35" fill="none"/>
<circle cx="139.0" cy="293.8" r="1.08" fill="#111"/>
<path d="M145.30,291.90L145.30,295.70M146.95,292.85L143.65,294.75M146.95,294.75L143.65,292.85" stroke="#111" stroke-width="1.35" fill="none"/>
<circle cx="145.3" cy="293.8" r="1.08" fill="#111"/>
<path d="M330.3,300.6 L330.3,298.7 L371.2,298.7 L371.2,300.6" fill="none" stroke="#111" stroke-width="1"/>
<path d="M350.50,293.70L350.50,298.10M352.41,294.80L348.59,297.00M352.41,297.00L348.59,294.80" stroke="#111" stroke-width="1.2" fill="none"/>
<circle cx="350.5" cy="295.9" r="0.96" fill="#111"/>
<text x="27.18" y="296.152" font-size="9.4" font-weight="normal" fill="#111" textLength="13.64" lengthAdjust="spacingAndGlyphs">120</text>
<text x="31.02" y="317.96799999999996" font-size="9.4" font-weight="normal" fill="#111" textLength="9.83" lengthAdjust="spacingAndGlyphs">80</text>
<text x="31.2" y="339.784" font-size="9.4" font-weight="normal" fill="#111" textLength="9.64" lengthAdjust="spacingAndGlyphs">40</text>
<text x="36.06" y="361.59999999999997" font-size="9.4" font-weight="normal" fill="#111" textLength="4.77" lengthAdjust="spacingAndGlyphs">0</text>
<text transform="translate(15.3,353.6) rotate(-90)" font-size="10" fill="#111" textLength="53" lengthAdjust="spacingAndGlyphs">% pos. cells</text>
<text transform="translate(25.4,343.0) rotate(-90)" font-size="9.6" fill="#111" textLength="39.4" lengthAdjust="spacingAndGlyphs">(surface)</text>
<text x="0.18" y="375.0" font-size="10.2" font-weight="normal" fill="#111" textLength="48.23" lengthAdjust="spacingAndGlyphs">DD(ng/ml):</text>
<text x="55.86" y="373.2" font-size="8.6" font-weight="normal" fill="#111" textLength="4.89" lengthAdjust="spacingAndGlyphs">0</text>
<text x="71.94" y="373.2" font-size="8.6" font-weight="normal" fill="#111" textLength="9.71" lengthAdjust="spacingAndGlyphs">10</text>
<text x="87.87" y="373.2" font-size="8.6" font-weight="normal" fill="#111" textLength="13.86" lengthAdjust="spacingAndGlyphs">100</text>
</svg></body></html>
